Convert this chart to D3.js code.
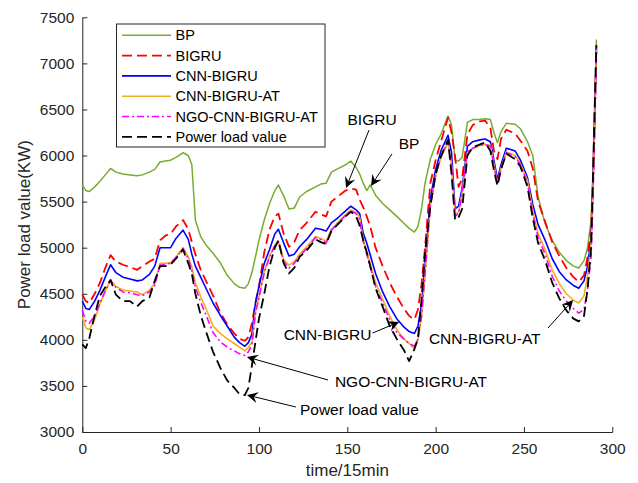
<!DOCTYPE html>
<html>
<head>
<meta charset="utf-8">
<script src="https://cdn.jsdelivr.net/npm/d3@7"></script>
<style>
  body { margin: 0; background: #fff; }
  text { font-family: "Liberation Sans", Arial, sans-serif; }
</style>
</head>
<body>
<svg id="chart"></svg>
<script>
// data
const time = [0,2,4,7,10,13,16,19,23,27,31,34,38,41,44,47,50,53,57,60,
  62,64,67,70,74,78,82,86,89,92,94,96,98,100,103,106,109,111,114,117,
  120,123,127,132,135,138,141,145,149,152,155,157,159,161,163,166,170,174,178,182,
  185,188,190,192,194,197,200,203,207,209,211,213,215,218,221,225,228,231,233,235,
  237,240,245,248,252,255,258,262,266,270,274,278,281,284,286,288,289,290,291];

const bp = [5680,5620,5610,5660,5720,5790,5860,5820,5800,5790,
  5780,5790,5820,5850,5930,5940,5950,5980,6030,6000,
  5900,5300,5120,5030,4940,4840,4700,4610,4570,4560,
  4610,4730,4900,5080,5300,5480,5620,5680,5560,5420,
  5430,5550,5610,5660,5690,5700,5820,5860,5900,5940,
  5870,5800,5700,5620,5680,5570,5480,5410,5340,5265,
  5210,5170,5230,5420,5700,5960,6120,6230,6430,6330,
  5950,5940,5980,6360,6390,6390,6400,6390,6250,6140,
  6260,6350,6340,6290,6150,6000,5550,5260,5080,4950,
  4860,4800,4780,4860,5000,5300,5800,6500,7260];

const bigru = [4490,4420,4400,4500,4620,4780,4920,4850,4815,4790,
  4760,4800,4850,4880,5080,5130,5150,5230,5300,5200,
  5060,4930,4760,4640,4480,4300,4170,4070,4010,3990,
  4030,4180,4400,4580,4950,5200,5340,5370,5150,5010,
  5060,5190,5270,5390,5360,5340,5500,5560,5620,5640,
  5630,5520,5440,5340,5230,5000,4800,4620,4470,4340,
  4260,4220,4330,4600,5000,5700,5950,6150,6410,6250,
  5990,5660,5750,6230,6330,6370,6380,6300,6050,5960,
  6180,6280,6240,6160,6050,5860,5500,5280,5060,4910,
  4780,4680,4630,4700,4900,5200,5700,6400,7200];

const cnnBigru = [4420,4340,4330,4420,4540,4680,4815,4730,4680,4660,
  4640,4650,4710,4800,5000,5000,5000,5100,5190,5090,
  4930,4800,4680,4560,4400,4270,4150,4030,3970,3930,
  3970,4060,4400,4580,4830,4980,5150,5200,5050,4910,
  4930,5010,5090,5210,5200,5180,5270,5330,5400,5450,
  5410,5370,5160,5050,4920,4720,4520,4360,4230,4140,
  4090,4070,4150,4380,4800,5530,5850,6050,6220,6030,
  5420,5450,5650,6100,6150,6170,6180,6150,5950,5740,
  5900,6080,6050,5950,5760,5470,5250,5080,4880,4740,
  4650,4590,4560,4640,4800,5100,5650,6350,7180];

const cnnBigruAt = [4250,4130,4110,4220,4390,4530,4650,4580,4540,4530,
  4520,4490,4540,4610,4830,4830,4840,4900,5000,4900,
  4790,4620,4470,4340,4150,4070,4010,3960,3920,3880,
  3920,3970,4300,4470,4740,4910,5030,5070,4870,4810,
  4850,4930,5010,5120,5100,5070,5200,5280,5360,5410,
  5380,5330,5090,4960,4830,4620,4440,4260,4110,4010,
  3960,3900,4000,4250,4700,5450,5780,5980,6140,5900,
  5360,5390,5600,6040,6080,6110,6120,6110,5900,5700,
  5860,6040,6000,5910,5730,5400,5150,4980,4760,4610,
  4500,4430,4400,4480,4700,5050,5600,6300,7150];

const ngo = [4320,4200,4180,4260,4400,4530,4640,4570,4520,4510,
  4490,4480,4520,4590,4810,4820,4830,4890,4990,4880,
  4750,4570,4410,4270,4080,3980,3920,3880,3850,3830,
  3870,3950,4280,4460,4730,4900,5020,5060,4850,4780,
  4830,4910,4990,5110,5090,5050,5190,5270,5350,5400,
  5370,5310,5070,4930,4790,4580,4400,4220,4080,4010,
  3960,3930,4010,4250,4720,5460,5790,5990,6150,5880,
  5340,5370,5590,6040,6080,6110,6120,6100,5890,5690,
  5850,6030,5990,5900,5700,5360,5110,4930,4690,4530,
  4420,4340,4290,4330,4550,4900,5500,6200,7120];

const actual = [3950,3910,4020,4270,4480,4570,4650,4490,4420,4420,
  4360,4420,4460,4640,4800,4800,4820,4880,4980,4830,
  4720,4500,4270,4090,3870,3700,3560,3480,3410,3400,
  3480,3720,3980,4230,4500,4800,5000,5080,4830,4720,
  4780,4900,4970,5090,5060,5040,5180,5260,5340,5390,
  5340,5240,5080,4950,4800,4560,4360,4150,4010,3890,
  3770,3900,4020,4430,4950,5450,5800,5990,6170,5800,
  5300,5330,5420,6000,6090,6120,6140,6050,5840,5670,
  5850,6020,5960,5880,5660,5320,5050,4860,4620,4450,
  4320,4230,4200,4260,4550,5000,5700,6500,7200];

const xTicks = [0, 50, 100, 150, 200, 250, 300];
const yTicks = [3000, 3500, 4000, 4500, 5000, 5500, 6000, 6500, 7000, 7500];

const series = [
  { name: 'BP', values: bp, color: '#77AC30', dash: null, w: 1.5 },
  { name: 'BIGRU', values: bigru, color: '#FF0000', dash: '10,5', w: 1.8 },
  { name: 'CNN-BIGRU', values: cnnBigru, color: '#0000FF', dash: null, w: 1.6 },
  { name: 'CNN-BIGRU-AT', values: cnnBigruAt, color: '#EDB120', dash: null, w: 1.6 },
  { name: 'NGO-CNN-BIGRU-AT', values: ngo, color: '#FF00FF', dash: '7,3,2,3', w: 1.6 },
  { name: 'Power load value', values: actual, color: '#000000', dash: '10,5', w: 1.8 },
];

// annotations: text and arrow, in data units
const notes = [
  { label: 'BIGRU', tx: 164, ty: 6386, anchor: 'middle', from: [162.3, 6277], to: [149.3, 5648] },
  { label: 'BP', tx: 185, ty: 6125, anchor: 'middle', from: [175.3, 6017], to: [163.4, 5670] },
  { label: 'CNN-BIGRU', tx: 163.7, ty: 4053, anchor: 'end', from: [164.3, 4074], to: [179.3, 4194] },
  { label: 'CNN-BIGRU-AT', tx: 196.2, ty: 4009, anchor: 'start', from: [263.6, 4129], to: [277.8, 4432] },
  { label: 'NGO-CNN-BIGRU-AT', tx: 143, ty: 3543, anchor: 'start', from: [139.1, 3564], to: [93.2, 3814] },
  { label: 'Power load value', tx: 123.2, ty: 3239, anchor: 'start', from: [120.9, 3271], to: [93.2, 3402] },
];

// constants
const width = 638;
const height = 483;
const margin = { left: 82, right: 26, top: 17, bottom: 51 };
const axisColor = '#262626';

const svg = d3.select('#chart')
  .attr('width', width)
  .attr('height', height);

svg.append('rect').attr('width', width).attr('height', height).attr('fill', '#fff');

const x = d3.scaleLinear().domain([0, 300]).range([margin.left + 0.3, 612.3]);
const y = d3.scaleLinear().domain([3000, 7500]).range([432, 17.3]);

// axes (left + bottom only, ticks inside)
const xAxis = svg.append('g')
  .attr('transform', `translate(0,${y(3000)})`)
  .call(d3.axisBottom(x).tickValues(xTicks).tickFormat(d3.format('d'))
    .tickSize(-5).tickPadding(11).tickSizeOuter(0));
const yAxis = svg.append('g')
  .attr('transform', `translate(${x(0)},0)`)
  .call(d3.axisLeft(y).tickValues(yTicks).tickFormat(d3.format('d'))
    .tickSize(-5).tickPadding(8).tickSizeOuter(0));

[xAxis, yAxis].forEach(a => {
  a.select('.domain').attr('stroke', axisColor).attr('stroke-width', 1);
  a.selectAll('.tick line').attr('stroke', axisColor);
  a.selectAll('.tick text')
    .attr('fill', axisColor)
    .style('font-size', '15.5px')
    .style('font-family', '"Liberation Sans", Arial, sans-serif');
});

svg.append('text')
  .attr('x', (x(0) + x(300)) / 2)
  .attr('y', 476)
  .attr('text-anchor', 'middle')
  .attr('fill', axisColor)
  .style('font-size', '17px')
  .text('time/15min');

svg.append('text')
  .attr('transform', `translate(30,${(y(3000) + y(7500)) / 2}) rotate(-90)`)
  .attr('text-anchor', 'middle')
  .attr('fill', axisColor)
  .style('font-size', '17px')
  .text('Power load value(KW)');

// lines
const line = d3.line()
  .x((d, i) => x(time[i]))
  .y(d => y(d));

svg.selectAll('.series')
  .data(series)
  .enter().append('path')
  .attr('class', 'series')
  .attr('d', d => line(d.values))
  .attr('fill', 'none')
  .attr('stroke', d => d.color)
  .attr('stroke-width', d => d.w)
  .attr('stroke-dasharray', d => d.dash)
  .attr('stroke-linejoin', 'round');

// legend
const legend = svg.append('g');
legend.append('rect')
  .attr('x', 116.5).attr('y', 24)
  .attr('width', 208.5).attr('height', 123)
  .attr('fill', '#fff')
  .attr('stroke', axisColor)
  .attr('stroke-width', 1);

const items = legend.selectAll('.item')
  .data(series)
  .enter().append('g')
  .attr('transform', (d, i) => `translate(0,${35.3 + i * 20.3})`);

items.append('line')
  .attr('x1', 122).attr('x2', 171)
  .attr('stroke', d => d.color)
  .attr('stroke-width', d => d.w)
  .attr('stroke-dasharray', d => d.dash);

items.append('text')
  .attr('x', 175.5)
  .attr('dy', '0.35em')
  .attr('fill', '#000')
  .style('font-size', '14.5px')
  .text(d => d.name);

// annotations with arrows
const ann = svg.selectAll('.note')
  .data(notes)
  .enter().append('g')
  .attr('class', 'note');

ann.append('text')
  .attr('x', d => x(d.tx))
  .attr('y', d => y(d.ty))
  .attr('dy', '0.35em')
  .attr('text-anchor', d => d.anchor)
  .attr('fill', '#000')
  .style('font-size', '15.5px')
  .text(d => d.label);

ann.each(function (d) {
  const g = d3.select(this);
  const x0 = x(d.from[0]), y0 = y(d.from[1]);
  const x1 = x(d.to[0]), y1 = y(d.to[1]);
  const ang = Math.atan2(y1 - y0, x1 - x0);
  const len = 11, half = 5.5, notch = 7;
  const ux = Math.cos(ang), uy = Math.sin(ang);
  const px = -uy, py = ux;
  g.append('line')
    .attr('x1', x0).attr('y1', y0)
    .attr('x2', x1 - ux * notch).attr('y2', y1 - uy * notch)
    .attr('stroke', '#000').attr('stroke-width', 1);
  const pts = [
    [x1, y1],
    [x1 - ux * len + px * half, y1 - uy * len + py * half],
    [x1 - ux * notch, y1 - uy * notch],
    [x1 - ux * len - px * half, y1 - uy * len - py * half],
  ];
  g.append('polygon')
    .attr('points', pts.map(p => p.join(',')).join(' '))
    .attr('fill', '#000');
});
</script>
</body>
</html>
